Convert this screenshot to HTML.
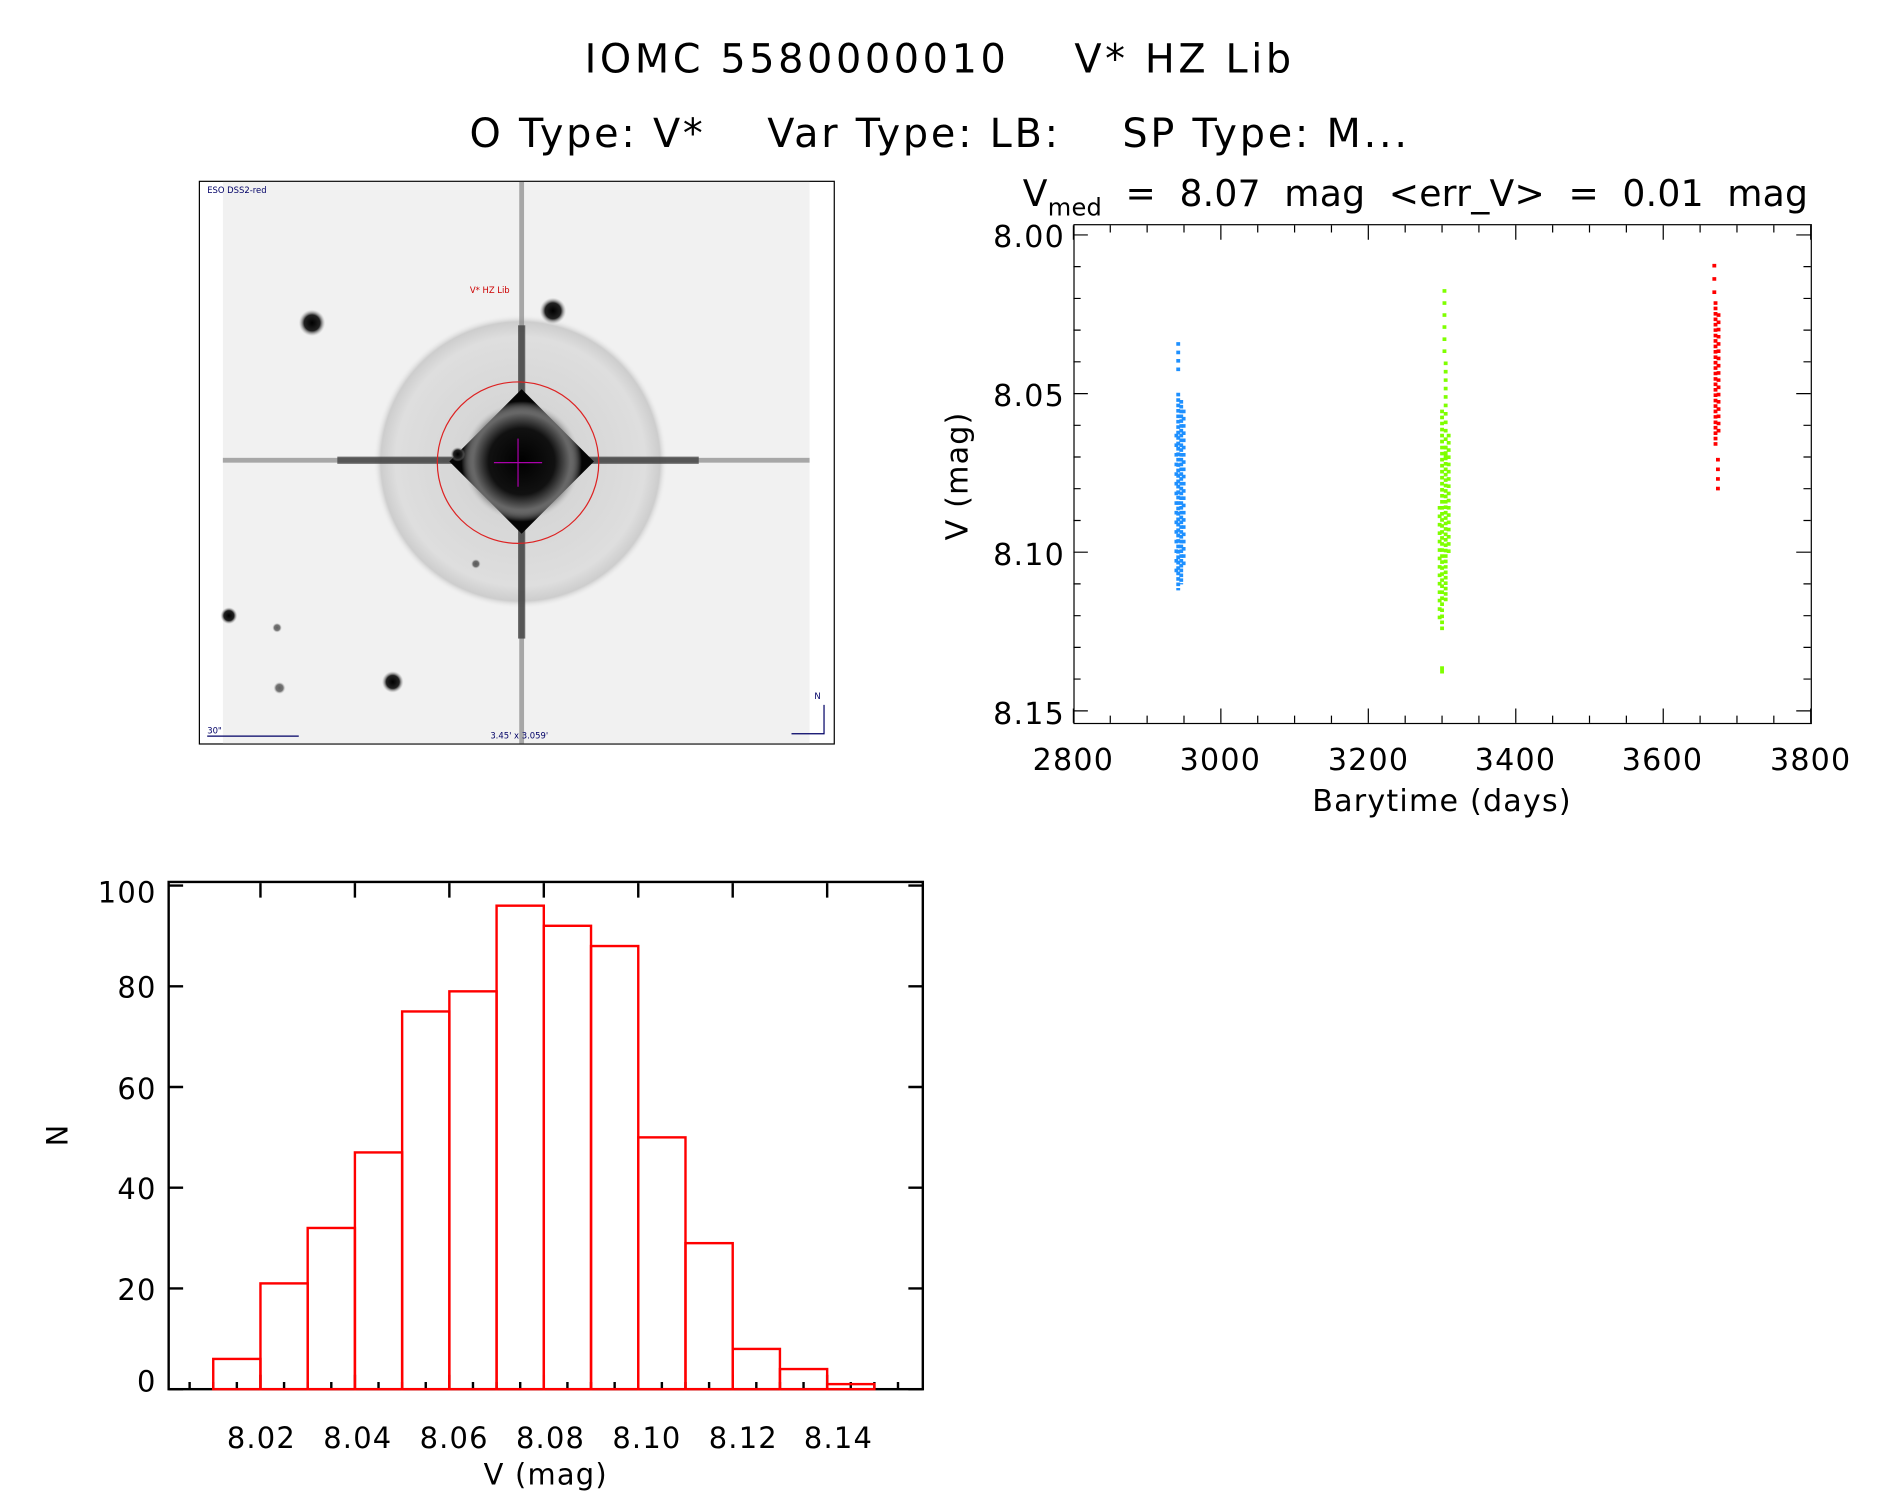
<!DOCTYPE html>
<html><head><meta charset="utf-8"><style>
html,body{margin:0;padding:0;background:#fff;}
svg{display:block;}
text{font-family:"DejaVu Sans","Liberation Sans",sans-serif;fill:#000;}
</style></head><body>
<svg width="1889" height="1494" viewBox="0 0 1568 1240" preserveAspectRatio="none" xmlns="http://www.w3.org/2000/svg">
<defs>
<radialGradient id="core" cx="50%" cy="50%" r="50%">
<stop offset="0" stop-color="#000"/><stop offset="0.55" stop-color="#111"/><stop offset="0.8" stop-color="#666"/><stop offset="1" stop-color="#ddd" stop-opacity="0"/>
</radialGradient>
<radialGradient id="halo" cx="50%" cy="50%" r="50%">
<stop offset="0" stop-color="#cfcfcf"/><stop offset="0.85" stop-color="#dedede"/><stop offset="0.95" stop-color="#cdcdcd"/><stop offset="1" stop-color="#f0f0f0" stop-opacity="0"/>
</radialGradient>
<radialGradient id="st" cx="50%" cy="50%" r="50%"><stop offset="0" stop-color="#000"/><stop offset="0.6" stop-color="#222"/><stop offset="1" stop-color="#aaa" stop-opacity="0"/></radialGradient>
</defs>
<text x="780" y="60" font-size="33" letter-spacing="3" text-anchor="middle" xml:space="preserve">IOMC 5580000010    V* HZ Lib</text>
<text x="780" y="122" font-size="33" letter-spacing="2.3" text-anchor="middle" xml:space="preserve">O Type: V*    Var Type: LB:    SP Type: M...</text>
<text x="849" y="171" font-size="30" letter-spacing="0.2" xml:space="preserve">V<tspan font-size="20" dy="8">med</tspan><tspan dy="-8">  =  8.07  mag  &lt;err_V&gt;  =  0.01  mag</tspan></text>

<!-- image panel -->
<rect x="165.5" y="150.5" width="527" height="467" fill="#fff" stroke="#000" stroke-width="1"/>
<rect x="185" y="151" width="487" height="466" fill="#f1f1f1"/>
<circle cx="432" cy="383" r="122" fill="url(#halo)"/>
<rect x="431" y="151" width="4" height="466" fill="#888" opacity="0.7"/>
<rect x="185" y="380" width="487" height="4" fill="#888" opacity="0.7"/>
<rect x="280" y="379" width="300" height="6" fill="#333" opacity="0.7"/>
<rect x="430" y="270" width="6" height="260" fill="#333" opacity="0.7"/>
<polygon points="433,323 493,383 433,443 373,383" fill="#050505"/>
<circle cx="433" cy="383" r="50" fill="url(#core)"/>
<circle cx="430" cy="384" r="67" fill="none" stroke="#d22" stroke-width="1"/>
<line x1="410" y1="384" x2="450" y2="384" stroke="#a0a" stroke-width="1"/>
<line x1="430" y1="364" x2="430" y2="404" stroke="#a0a" stroke-width="1"/>
<circle cx="259" cy="268" r="11" fill="url(#st)"/>
<circle cx="459" cy="258" r="11" fill="url(#st)"/>
<circle cx="326" cy="566" r="9" fill="url(#st)"/>
<circle cx="190" cy="511" r="7" fill="url(#st)"/>
<circle cx="380" cy="377" r="6" fill="url(#st)"/>
<circle cx="232" cy="571" r="5" fill="url(#st)" opacity="0.6"/>
<circle cx="230" cy="521" r="4" fill="url(#st)" opacity="0.6"/>
<circle cx="395" cy="468" r="4" fill="url(#st)" opacity="0.6"/>
<text x="172" y="160" font-size="7" style="fill:#006">ESO DSS2-red</text>
<text x="390" y="243" font-size="7" style="fill:#c00">V* HZ Lib</text>
<text x="172" y="609" font-size="7" style="fill:#006">30"</text>
<line x1="172" y1="611" x2="248" y2="611" stroke="#006"/>
<text x="407" y="613" font-size="7" style="fill:#006">3.45' x 3.059'</text>
<polyline points="657,609 684,609 684,585" fill="none" stroke="#006"/>
<text x="676" y="580" font-size="7" style="fill:#006">N</text>

<!-- scatter -->
<g stroke="#000" stroke-width="1" fill="none">
<rect x="891.5" y="186.5" width="612" height="414"/>
<path d="M891 600v-12M921.6 600v-6M952.2 600v-6M982.8 600v-6M1013.4 600v-12M1044 600v-6M1074.6 600v-6M1105.2 600v-6M1135.8 600v-12M1166.4 600v-6M1197 600v-6M1227.6 600v-6M1258.2 600v-12M1288.8 600v-6M1319.4 600v-6M1350 600v-6M1380.6 600v-12M1411.2 600v-6M1441.8 600v-6M1472.4 600v-6M1503 600v-12
M891 187v12M921.6 187v6M952.2 187v6M982.8 187v6M1013.4 187v12M1044 187v6M1074.6 187v6M1105.2 187v6M1135.8 187v12M1166.4 187v6M1197 187v6M1227.6 187v6M1258.2 187v12M1288.8 187v6M1319.4 187v6M1350 187v6M1380.6 187v12M1411.2 187v6M1441.8 187v6M1472.4 187v6M1503 187v12"/>
<path d="M891 195h12M891 221.3h6M891 247.7h6M891 274h6M891 300.3h6M891 326.7h12M891 353h6M891 379.3h6M891 405.6h6M891 432h6M891 458.3h12M891 484.6h6M891 511h6M891 537.3h6M891 563.6h6M891 590h12
M1503 195h-12M1503 221.3h-6M1503 247.7h-6M1503 274h-6M1503 300.3h-6M1503 326.7h-12M1503 353h-6M1503 379.3h-6M1503 405.6h-6M1503 432h-6M1503 458.3h-12M1503 484.6h-6M1503 511h-6M1503 537.3h-6M1503 563.6h-6M1503 590h-12"/>
</g>
<g font-size="25" letter-spacing="1">
<text x="884" y="205" text-anchor="end">8.00</text>
<text x="884" y="337" text-anchor="end">8.05</text>
<text x="884" y="469" text-anchor="end">8.10</text>
<text x="884" y="601" text-anchor="end">8.15</text>
<text x="891" y="639" text-anchor="middle">2800</text>
<text x="1013" y="639" text-anchor="middle">3000</text>
<text x="1136" y="639" text-anchor="middle">3200</text>
<text x="1258" y="639" text-anchor="middle">3400</text>
<text x="1380" y="639" text-anchor="middle">3600</text>
<text x="1503" y="639" text-anchor="middle">3800</text>
<text x="1197" y="673" text-anchor="middle">Barytime (days)</text>
<text transform="translate(803,395) rotate(-90)" text-anchor="middle">V (mag)</text>
</g>
<!-- points -->
<g fill="none" stroke-width="3.2">
<g stroke="#1e90ff">
<line x1="978" y1="284" x2="978" y2="312" stroke-dasharray="3 4"/>
<line x1="978" y1="326" x2="978" y2="490" stroke-dasharray="3 1.5"/>
<line x1="980.5" y1="332" x2="980.5" y2="485" stroke-dasharray="3 1"/>
<line x1="982.5" y1="340" x2="982.5" y2="470" stroke-dasharray="3 3"/>
<line x1="976.5" y1="360" x2="976.5" y2="480" stroke-dasharray="3 5"/>
</g>
<g stroke="#7fff00">
<line x1="1199" y1="240" x2="1199" y2="300" stroke-dasharray="3 7"/>
<line x1="1200" y1="300" x2="1200" y2="380" stroke-dasharray="3 4"/>
<line x1="1197" y1="340" x2="1197" y2="525" stroke-dasharray="3 2"/>
<line x1="1200" y1="370" x2="1200" y2="500" stroke-dasharray="3 1.5"/>
<line x1="1202.5" y1="360" x2="1202.5" y2="460" stroke-dasharray="3 3"/>
<line x1="1195" y1="420" x2="1195" y2="515" stroke-dasharray="3 4"/>
<line x1="1197" y1="553" x2="1197" y2="559"/>
</g>
<g stroke="#f00">
<line x1="1423" y1="219" x2="1423" y2="250" stroke-dasharray="3 8"/>
<line x1="1424" y1="250" x2="1424" y2="370" stroke-dasharray="3 1.5"/>
<line x1="1426.5" y1="260" x2="1426.5" y2="360" stroke-dasharray="3 3"/>
<line x1="1426" y1="380" x2="1426" y2="412" stroke-dasharray="3 5"/>
</g>
</g>

<!-- histogram -->
<g stroke="#000" stroke-width="2" fill="none">
<rect x="140" y="732" width="626" height="421"/>
<path d="M157.4 1153v-6M177 1153v-6M196.6 1153v-6M216.2 1153v-12M235.8 1153v-6M255.4 1153v-6M275 1153v-6M294.6 1153v-12M314.2 1153v-6M333.8 1153v-6M353.4 1153v-6M373 1153v-12M392.6 1153v-6M412.2 1153v-6M431.8 1153v-6M451.4 1153v-12M471 1153v-6M490.6 1153v-6M510.2 1153v-6M529.8 1153v-12M549.4 1153v-6M569 1153v-6M588.6 1153v-6M608.2 1153v-12M627.8 1153v-6M647.4 1153v-6M667 1153v-6M686.6 1153v-12M706.2 1153v-6M725.8 1153v-6M745.4 1153v-6
M216.2 733v12M294.6 733v12M373 733v12M451.4 733v12M529.8 733v12M608.2 733v12M686.6 733v12
M140 1153h12M140 1069.4h12M140 985.8h12M140 902.2h12M140 818.6h12M140 735h12
M766 1153h-12M766 1069.4h-12M766 985.8h-12M766 902.2h-12M766 818.6h-12M766 735h-12"/>
</g>
<g stroke="#f00" stroke-width="2" fill="none">
<rect x="177" y="1127.9" width="39.2" height="25.1"/>
<rect x="216.2" y="1065.2" width="39.2" height="87.8"/>
<rect x="255.4" y="1019.2" width="39.2" height="133.8"/>
<rect x="294.6" y="956.5" width="39.2" height="196.5"/>
<rect x="333.8" y="839.5" width="39.2" height="313.5"/>
<rect x="373" y="822.8" width="39.2" height="330.2"/>
<rect x="412.2" y="751.7" width="39.2" height="401.3"/>
<rect x="451.4" y="768.4" width="39.2" height="384.6"/>
<rect x="490.6" y="785.2" width="39.2" height="367.8"/>
<rect x="529.8" y="944" width="39.2" height="209"/>
<rect x="569" y="1031.8" width="39.2" height="121.2"/>
<rect x="608.2" y="1119.6" width="39.2" height="33.4"/>
<rect x="647.4" y="1136.3" width="39.2" height="16.7"/>
<rect x="686.6" y="1148.8" width="39.2" height="4.2"/>
</g>
<g font-size="24" letter-spacing="1">
<text x="130" y="749" text-anchor="end">100</text>
<text x="130" y="828" text-anchor="end">80</text>
<text x="130" y="912" text-anchor="end">60</text>
<text x="130" y="995" text-anchor="end">40</text>
<text x="130" y="1079" text-anchor="end">20</text>
<text x="130" y="1155" text-anchor="end">0</text>
<text x="217" y="1202" text-anchor="middle">8.02</text>
<text x="297" y="1202" text-anchor="middle">8.04</text>
<text x="377" y="1202" text-anchor="middle">8.06</text>
<text x="457" y="1202" text-anchor="middle">8.08</text>
<text x="537" y="1202" text-anchor="middle">8.10</text>
<text x="617" y="1202" text-anchor="middle">8.12</text>
<text x="696" y="1202" text-anchor="middle">8.14</text>
<text x="453" y="1232" text-anchor="middle">V (mag)</text>
<text transform="translate(56,942) rotate(-90)" text-anchor="middle">N</text>
</g>
</svg>
</body></html>
